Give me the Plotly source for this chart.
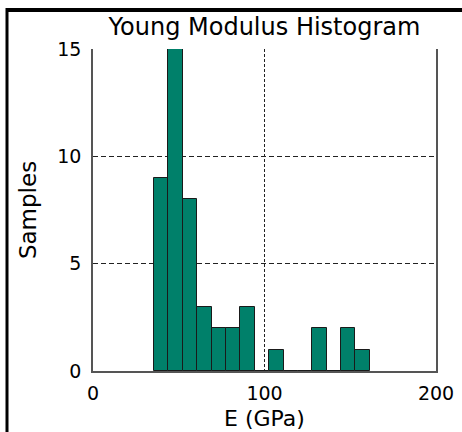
import plotly.graph_objects as go

# Data: histogram bins of Young's modulus (GPa) and sample counts
bin_centers = [39.8, 48.2, 56.6, 65.0, 73.4, 81.7, 90.1, 98.5,
               106.9, 115.3, 123.7, 132.1, 140.4, 148.8, 157.2]
counts = [9, 15, 8, 3, 2, 2, 3, 0, 1, 0, 0, 2, 0, 2, 1]
bin_width = 8.39

x_ticks = [0, 100, 200]
y_ticks = [0, 5, 10, 15]

FONT = "DejaVu Sans"

fig = go.Figure()
fig.add_trace(go.Bar(
    x=bin_centers, y=counts, width=bin_width,
    marker=dict(color="#00806A", line=dict(color="#1a1a1a", width=1)),
    showlegend=False,
))

W, H = 462, 432
L, R, T, B = 93, 26, 49, 61
pw, ph = W - L - R, H - T - B

def px(x):
    return (x - L) / pw

def py(y):
    return (H - B - y) / ph

fig.update_layout(
    width=W, height=H,
    margin=dict(l=L, r=R, t=T, b=B, pad=0, autoexpand=False),
    paper_bgcolor="white", plot_bgcolor="white",
    font=dict(family=FONT, color="black", size=18),
    title=dict(text="Young Modulus Histogram", xref="paper", x=0.5, xanchor="center",
               yref="container", y=1 - 27 / H, yanchor="middle",
               font=dict(family=FONT, size=24, color="black")),
    bargap=0,
    xaxis=dict(
        range=[0, 200], tickvals=x_ticks, ticktext=[str(v) for v in x_ticks],
        showgrid=True, gridcolor="#222", griddash="3px,2px", gridwidth=1,
        showline=True, linecolor="#555", linewidth=1.5, mirror=False,
        ticks="", zeroline=False, ticklabelstandoff=4, automargin=False,
        tickfont=dict(family=FONT, size=19),
        title=dict(text="E (GPa)", font=dict(family=FONT, size=22), standoff=8),
    ),
    yaxis=dict(
        range=[0, 15], tickvals=y_ticks, ticktext=[str(v) for v in y_ticks],
        showgrid=True, gridcolor="#222", griddash="5px,3px", gridwidth=1,
        showline=True, linecolor="#555", linewidth=1.5, mirror=True,
        ticks="", zeroline=False, ticklabelstandoff=6, automargin=False,
        tickfont=dict(family=FONT, size=19),
        title=dict(text="Samples", font=dict(family=FONT, size=23), standoff=14),
    ),
    shapes=[
        dict(type="line", xref="paper", yref="paper",
             x0=px(6), x1=px(480), y0=py(10), y1=py(10),
             line=dict(color="black", width=4)),
        dict(type="line", xref="paper", yref="paper",
             x0=px(7), x1=px(7), y0=py(8), y1=py(450),
             line=dict(color="black", width=3)),
    ],
)

fig.write_html("out.html", post_script="document.body.style.margin='0px';",
               config={"displayModeBar": False})
